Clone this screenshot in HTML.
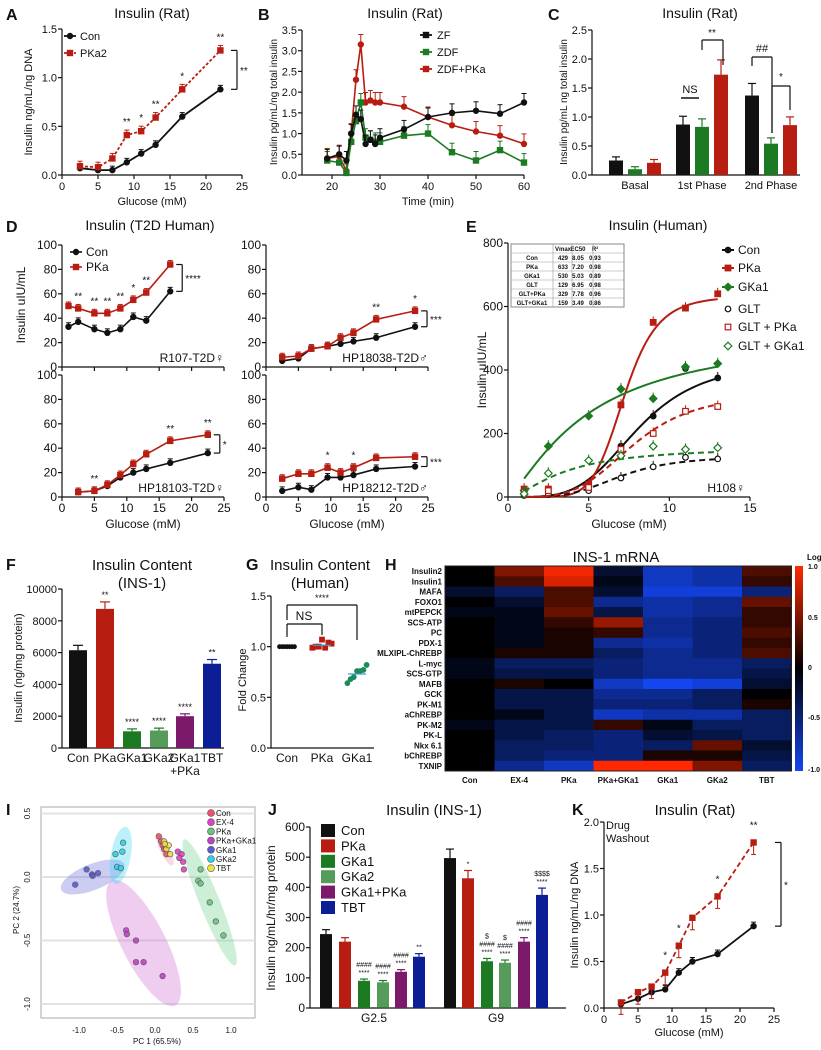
<!DOCTYPE html>
<html><head><meta charset="utf-8">
<style>
html,body{margin:0;padding:0;background:#fff;}
svg{display:block;font-family:"Liberation Sans Narrow","Liberation Sans",sans-serif;}
</style></head>
<body>
<svg id="fig" width="821" height="1050" viewBox="0 0 821 1050" xmlns="http://www.w3.org/2000/svg"></svg>
<script>
// ---------- DATA ----------
const aGlu=[2.5,5,7,9,11,13,16.7,22];
const aCon=[0.07,0.05,0.05,0.13,0.22,0.31,0.60,0.88];
const aPKa2=[0.09,0.08,0.17,0.41,0.45,0.59,0.88,1.28];
const aStars=['','','','**','*','**','*','**'];

const bTime=[19,21.5,23,24,25,26,27,28,29,30,35,40,45,50,55,60];
const bZF=[0.40,0.50,0.35,1.00,1.45,1.35,0.75,0.85,0.75,0.90,1.10,1.40,1.50,1.55,1.48,1.75];
const bZDF=[0.35,0.30,0.05,0.80,1.30,1.75,0.90,0.85,0.80,0.80,0.95,1.00,0.55,0.35,0.60,0.30];
const bPKa=[0.40,0.45,0.10,1.00,2.30,3.15,1.75,1.80,1.75,1.75,1.65,1.40,1.20,1.05,0.95,0.75];

const cGroups=['Basal','1st Phase','2nd Phase'];
const cZF=[0.25,0.87,1.37];
const cZDF=[0.10,0.83,0.54];
const cPKa=[0.21,1.73,0.86];

const d1Glu=[1,2.5,5,7,9,11,13,16.7];
const d1Con=[33,37,31,28,31,41,38,62];
const d1PKa=[50,48,44,44,48,55,61,84];
const d1Stars=['','**','**','**','**','*','**',''];
const d2Glu=[2.5,5,7,9.5,11.5,13.5,17,23];
const d2Con=[5,7,15,17,19,21,24,33];
const d2PKa=[8,9,15,17,24,28,39,46];
const d2Stars=['','','','','','','**','*'];
const d3Glu=[2.5,5,7,9,11,13,16.7,22.5];
const d3Con=[4,5,9,16,20,23,28,36];
const d3PKa=[4,5,10,18,27,35,46,51];
const d3Stars=['','**','','','','','**','**'];
const d4Glu=[2.5,5,7,9.5,11.5,13.5,17,23];
const d4Con=[5,8,6,16,16,18,23,25];
const d4PKa=[15,19,19,24,20,24,32,33];
const d4Stars=['','','','*','','*','',''];

const eGlu=[1,2.5,5,7,9,11,13];
const eCon=[10,10,30,160,255,405,375];
const ePKa=[25,25,40,290,550,595,640];
const eGKa1=[20,160,255,340,310,410,420];
const eGLT=[5,8,20,60,95,125,120];
const eGLTPKa=[15,20,30,150,200,270,285];
const eGLTGKa1=[10,75,115,130,160,150,155];
const eNames=['Con','PKa','GKa1','GLT','GLT+PKa','GLT+GKa1'];
const eVmax=[429,633,530,129,329,159];
const eEC50=[8.05,7.20,5.03,6.95,7.78,3.49];
const eR2=['0.93','0.98','0.89','0.98','0.96','0.86'];
const eHill=[4,7,1.3,4,4,1.6];

const fCats=['Con','PKa','GKa1','GKa2','GKa1','TBT'];
const fVals=[6150,8750,1050,1100,2000,5300];
const fStars=['','**','****','****','****','**'];

const gCon=[1,1,1,1,1,1,1];
const gPKa=[0.97,1.0,1.02,1.05,0.99,1.06,1.01];
const gGKa1=[0.62,0.68,0.72,0.74,0.76,0.79,0.80];

const hGenes=['Insulin2','Insulin1','MAFA','FOXO1','mtPEPCK','SCS-ATP','PC','PDX-1','MLXIPL-ChREBP','L-myc','SCS-GTP','MAFB','GCK','PK-M1','aChREBP','PK-M2','PK-L','Nkx 6.1','bChREBP','TXNIP'];
const hGroups=['Con','EX-4','PKa','PKa+GKa1','GKa1','GKa2','TBT'];
const hVals=[
[0,.5,.95,-.2,-.8,-.7,.3],[0,.3,.85,-.1,-.8,-.7,.2],[-.2,-.4,.3,-.2,-.9,-.9,-.5],
[0,-.2,.3,-.6,-.7,-.6,.4],[-.1,-.1,.4,-.3,-.7,-.6,.2],[0,-.1,.2,.6,-.6,-.5,.2],
[0,-.1,.1,.2,-.6,-.5,.3],[0,-.1,.1,-.6,-.7,-.5,.2],[0,.1,.1,-.4,-.6,-.5,.3],
[-.1,-.4,-.4,-.5,-.6,-.6,-.4],[-.1,-.3,-.3,-.5,-.6,-.6,-.3],[0,.1,0,-.8,-1,-.9,-.2],
[0,-.3,-.3,-.6,-.6,-.4,0],[0,-.3,-.3,-.5,-.5,-.4,.1],[0,-.1,-.3,-.8,-.7,-.7,-.4],
[-.1,-.3,-.3,.2,-.1,-.4,-.4],[0,-.3,-.4,-.5,-.2,-.3,-.4],[0,-.4,-.4,-.5,-.4,.4,-.2],
[0,-.4,-.5,-.5,.1,.1,-.3],[0,-.6,-.8,1,1,.5,-.4]];

const iGroups=['Con','EX-4','PKa','PKa+GKa1','GKa1','GKa2','TBT'];
const iPC1=[[0.05,0.08,0.12,0.15,0.10],[0.30,0.35,0.37,0.38,0.32],[0.60,0.57,0.60,0.72,0.80,0.90],[-0.38,-0.37,-0.25,-0.25,-0.15,0.10],[-1.05,-0.90,-0.83,-0.82,-0.75],[-0.52,-0.42,-0.43,-0.50,-0.45],[0.12,0.15,0.18,0.20,0.13]];
const iPC2=[[0.32,0.28,0.22,0.18,0.25],[0.20,0.18,0.12,0.06,0.15],[0.06,-0.03,-0.05,-0.20,-0.35,-0.46],[-0.42,-0.45,-0.50,-0.67,-0.67,-0.78],[-0.06,0.06,0.02,0.01,0.03],[0.18,0.27,0.20,0.08,0.07],[0.28,0.22,0.25,0.18,0.26]];

const jCats=['Con','PKa','GKa1','GKa2','GKa1+PKa','TBT'];
const jG25=[245,220,90,85,120,170];
const jG9=[497,430,155,150,220,375];

const kGlu=[2.5,5,7,9,11,13,16.7,22];
const kCon=[0.04,0.10,0.17,0.20,0.38,0.50,0.58,0.88];
const kPKa=[0.06,0.17,0.23,0.38,0.67,0.97,1.20,1.78];
const kStars=['','','','*','*','','*','**'];

// ---------- HELPERS ----------
const NS='http://www.w3.org/2000/svg';
const svg=document.getElementById('fig');
const RED='#b81d12',GRN='#1c7a22',PUR='#7b1a6a',BLU='#0c1e96';
function mk(tag,a,name,parent){
  const e=document.createElementNS(NS,tag);
  for(const k in a)e.setAttribute(k,a[k]);
  
  
  (parent||svg).appendChild(e);return e;
}
function T(x,y,s,size,name,anchor,weight,rot,fill){
  const a={x:x,y:y,'font-size':size,'text-anchor':anchor||'middle',fill:fill||'#111'};
  if(weight)a['font-weight']=weight;
  if(rot)a.transform='rotate('+rot+' '+x+' '+y+')';
  const e=mk('text',a,name);e.textContent=s;return e;
}
function L(x1,y1,x2,y2,name,stroke,w,dash){
  const a={x1:x1,y1:y1,x2:x2,y2:y2,stroke:stroke||'#111','stroke-width':w||1.2};
  if(dash)a['stroke-dasharray']=dash;
  return mk('line',a,name);
}
function sc(d0,d1,p0,p1){return v=>p0+(v-d0)*(p1-p0)/(d1-d0);}
function yAxis(x,ys,ticks,labels,size,name){
  L(x,ys(ticks[0]),x,ys(ticks[ticks.length-1]),name+'-line');
  ticks.forEach((t,i)=>{L(x-4,ys(t),x,ys(t),name+'-tick');
    if(labels)T(x-5,ys(t)+4,labels[i],size||11,name+'-label','end');});
}
function xAxis(y,xs,ticks,labels,size,name,x0,x1){
  L(x0!==undefined?x0:xs(ticks[0]),y,x1!==undefined?x1:xs(ticks[ticks.length-1]),y,name+'-line');
  ticks.forEach((t,i)=>{L(xs(t),y,xs(t),y+4,name+'-tick');
    if(labels)T(xs(t),y+15,labels[i],size||11,name+'-label');});
}
function marker(x,y,shape,color,name,r,open){
  r=r||2.6;
  const f=open?'#fff':color;
  if(shape==='s')return mk('rect',{x:x-r,y:y-r,width:2*r,height:2*r,fill:f,stroke:color,'stroke-width':1.2},name);
  if(shape==='d')return mk('polygon',{points:`${x},${y-r-1} ${x+r+1},${y} ${x},${y+r+1} ${x-r-1},${y}`,fill:f,stroke:color,'stroke-width':1.2},name);
  return mk('circle',{cx:x,cy:y,r:r,fill:f,stroke:color,'stroke-width':1.2},name);
}
function series(xs,ys,X,Y,color,shape,name,dash,err,w){
  const pts=X.map((v,i)=>xs(v)+','+ys(Y[i])).join(' ');
  const a={points:pts,fill:'none',stroke:color,'stroke-width':w||1.8};
  if(dash)a['stroke-dasharray']=dash;
  mk('polyline',a,name+'-line');
  X.forEach((v,i)=>{
    const px=xs(v),py=ys(Y[i]);
    if(err){L(px,py,px,py-err,name+'-error',color,1);L(px-2.5,py-err,px+2.5,py-err,name+'-error-cap',color,1);}
    marker(px,py,shape,color,name+'-point');
  });
}
function stars(xs,ys,X,Y,S,name,off){
  X.forEach((v,i)=>{if(S[i])T(xs(v),ys(Y[i])-(off||9),S[i],10,name);});
}
function bracket(x,y1,y2,label,name){
  L(x-6,y1,x,y1,name);L(x,y1,x,y2,name);L(x-6,y2,x,y2,name);
  T(x+3,(y1+y2)/2+4,label,10,name+'-label','start');
}

// ---------- PANEL A ----------
{
const xs=sc(0,25,62,242),ys=sc(0,1.5,175,29);
T(6,20,'A',16,'panel-a-letter','start','bold');
T(152,18,'Insulin (Rat)',14,'panel-a-title');
yAxis(62,ys,[0,0.5,1,1.5],['0.0','0.5','1.0','1.5'],11,'a-y-axis');
xAxis(175,xs,[0,5,10,15,20,25],['0','5','10','15','20','25'],11,'a-x-axis');
T(152,205,'Glucose (mM)',11,'a-x-axis-title');
T(32,102,'Insulin ng/mL/ng DNA',11,'a-y-axis-title','middle',null,-90);
series(xs,ys,aGlu,aCon,'#111','c','a-con',null,4);
series(xs,ys,aGlu,aPKa2,RED,'s','a-pka2','3,2',5);
stars(xs,ys,aGlu,aPKa2,aStars,'a-significance',10);
bracket(237,ys(1.28),ys(0.88),'**','a-bracket');
L(64,36,76,36,'a-legend-con-line','#111',1.8);marker(70,36,'c','#111','a-legend-con-marker');T(80,40,'Con',11,'a-legend-con','start');
L(64,53,76,53,'a-legend-pka2-line',RED,1.8,'3,2');marker(70,53,'s',RED,'a-legend-pka2-marker');T(80,57,'PKa2',11,'a-legend-pka2','start');
}
// ---------- PANEL B ----------
{
const xs=sc(20,60,332,524),ys=sc(0,3.5,175,30);
T(258,20,'B',16,'panel-b-letter','start','bold');
T(405,18,'Insulin (Rat)',14,'panel-b-title');
yAxis(302,ys,[0,0.5,1,1.5,2,2.5,3,3.5],['0.0','0.5','1.0','1.5','2.0','2.5','3.0','3.5'],11,'b-y-axis');
xAxis(175,xs,[20,30,40,50,60],['20','30','40','50','60'],11,'b-x-axis',302);
T(428,205,'Time (min)',11,'b-x-axis-title');
T(277,102,'Insulin pg/mL/ng total insulin',10,'b-y-axis-title','middle',null,-90);
series(xs,ys,bTime,bPKa,RED,'t','b-zdf-pka',null,10,1.6);
series(xs,ys,bTime,bZDF,GRN,'s','b-zdf',null,9,1.6);
series(xs,ys,bTime,bZF,'#111','c','b-zf',null,9,1.6);
[['ZF','#111'],['ZDF',GRN],['ZDF+PKa',RED]].forEach((l,i)=>{
  const y=35+i*17;
  L(420,y,432,y,'b-legend-line',l[1],1.8);marker(426,y,'s',l[1],'b-legend-marker');
  T(437,y+4,l[0],11,'b-legend-'+l[0].toLowerCase(),'start');
});
}
// ---------- PANEL C ----------
{
const ys=sc(0,2.5,175,30);
T(548,20,'C',16,'panel-c-letter','start','bold');
T(700,18,'Insulin (Rat)',14,'panel-c-title');
yAxis(592,ys,[0,0.5,1,1.5,2,2.5],['0.0','0.5','1.0','1.5','2.0','2.5'],11,'c-y-axis');
L(592,175,800,175,'c-x-axis-line');
T(567,102,'Insulin pg/mL ng total insulin',10,'c-y-axis-title','middle',null,-90);
const gx=[635,702,771];
const cols=['#111',GRN,RED];
[cZF,cZDF,cPKa].forEach((arr,s)=>{
  arr.forEach((v,i)=>{
    const x=gx[i]+(s-1)*19-7;
    mk('rect',{x:x,y:ys(v),width:14,height:175-ys(v),fill:cols[s]},'c-bar-'+cGroups[i].replace(/ /g,'-').toLowerCase());
    const e=v*0.13+0.03;
    L(x+7,ys(v),x+7,ys(v+e),'c-error',cols[s],1.2);L(x+3,ys(v+e),x+11,ys(v+e),'c-error-cap',cols[s],1.2);
  });
  cGroups.forEach((g,i)=>{if(s===0)T(gx[i],189,g,11,'c-x-label');});
});
L(681,98,699,98,'c-ns-line','#111',1.5);T(690,93,'NS',11,'c-ns-label');
L(702,40,723,40,'c-bracket');L(702,40,702,50,'c-bracket');L(723,40,723,65,'c-bracket');T(712,36,'**',10,'c-sig-label');
L(752,57,772,57,'c-bracket');L(752,57,752,66,'c-bracket');L(772,57,772,133,'c-bracket');T(762,52,'##',11,'c-sig-label');
L(772,86,790,86,'c-bracket');L(772,86,772,133,'c-bracket');L(790,86,790,110,'c-bracket');T(781,80,'*',10,'c-sig-label');
}
// ---------- PANEL D ----------
{
T(6,232,'D',16,'panel-d-letter','start','bold');
T(150,230,'Insulin (T2D Human)',14,'panel-d-title');
T(25,305,'Insulin uIU/mL',12,'d-y-axis-title','middle',null,-90);
const subs=[
 {x0:62,y0:367,X:d1Glu,C:d1Con,P:d1PKa,S:d1Stars,lab:'R107-T2D\u2640',br:[62,84],n:'d-r107'},
 {x0:266,y0:367,X:d2Glu,C:d2Con,P:d2PKa,S:d2Stars,lab:'HP18038-T2D\u2642',br:[33,46],n:'d-hp18038'},
 {x0:62,y0:497,X:d3Glu,C:d3Con,P:d3PKa,S:d3Stars,lab:'HP18103-T2D\u2640',br:[36,51],n:'d-hp18103'},
 {x0:266,y0:497,X:d4Glu,C:d4Con,P:d4PKa,S:d4Stars,lab:'HP18212-T2D\u2642',br:[25,33],n:'d-hp18212'}];
subs.forEach((s,k)=>{
  const xs=sc(0,25,s.x0,s.x0+162),ys=sc(0,100,s.y0,s.y0-122);
  yAxis(s.x0,ys,[0,20,40,60,80,100],['0','20','40','60','80','100'],12,s.n+'-y-axis');
  xAxis(s.y0,xs,[0,5,10,15,20,25],k>=2?['0','5','10','15','20','25']:null,12,s.n+'-x-axis');
  series(xs,ys,s.X,s.C,'#111','c',s.n+'-con',null,4,1.6);
  series(xs,ys,s.X,s.P,RED,'s',s.n+'-pka',null,4,1.6);
  stars(xs,ys,s.X,s.P,s.S,s.n+'-significance',9);
  bracket(xs(s.X[7])+12,ys(s.br[1]),ys(s.br[0]),['****','***','*','***'][k],s.n+'-bracket');
  T(s.x0+162,s.y0-5,s.lab,12,s.n+'-donor-label','end');
  if(k>=2)T(s.x0+81,s.y0+31,'Glucose (mM)',12,s.n+'-x-axis-title');
});
L(70,252,82,252,'d-legend-con-line','#111',1.6);marker(76,252,'c','#111','d-legend-con-marker');T(86,256,'Con',12,'d-legend-con','start');
L(70,267,82,267,'d-legend-pka-line',RED,1.6);marker(76,267,'s',RED,'d-legend-pka-marker');T(86,271,'PKa',12,'d-legend-pka','start');
}
// ---------- PANEL E ----------
{
const xs=sc(0,15,508,750),ys=sc(0,800,497,243);
T(466,232,'E',16,'panel-e-letter','start','bold');
T(658,230,'Insulin (Human)',14,'panel-e-title');
yAxis(508,ys,[0,200,400,600,800],['0','200','400','600','800'],12,'e-y-axis');
xAxis(497,xs,[0,5,10,15],['0','5','10','15'],12,'e-x-axis');
T(629,528,'Glucose (mM)',12,'e-x-axis-title');
T(486,370,'Insulin uIU/mL',12,'e-y-axis-title','middle',null,-90);
T(745,492,'H108\u2640',12,'e-donor-label','end');
const data=[eCon,ePKa,eGKa1,eGLT,eGLTPKa,eGLTGKa1];
const cols=['#111',RED,GRN,'#111',RED,GRN];
const shapes=['c','s','d','c','s','d'];
data.forEach((Y,s)=>{
  const pts=[];
  for(let g=1;g<=13.01;g+=0.25){const v=eVmax[s]*Math.pow(g,eHill[s])/(Math.pow(eEC50[s],eHill[s])+Math.pow(g,eHill[s]));pts.push(xs(g)+','+ys(v));}
  const a={points:pts.join(' '),fill:'none',stroke:cols[s],'stroke-width':2};
  if(s>=3)a['stroke-dasharray']='6,4';
  mk('polyline',a,'e-fit-'+eNames[s].toLowerCase());
  eGlu.forEach((g,i)=>{
    const px=xs(g),py=ys(Y[i]);
    L(px,py,px,py-6,'e-error',cols[s],1);
    marker(px,py,shapes[s],cols[s],'e-point-'+eNames[s].toLowerCase(),2.8,s>=3);
  });
});
const leg=['Con','PKa','GKa1','GLT','GLT + PKa','GLT + GKa1'];
leg.forEach((l,i)=>{
  const y=[250,268,287,309,327,346][i];
  if(i<3)L(722,y,734,y,'e-legend-line',cols[i],2);
  marker(728,y,shapes[i],cols[i],'e-legend-marker',2.8,i>=3);
  T(738,y+4,l,12,'e-legend-'+l.replace(/ /g,'').toLowerCase(),'start');
});
const tx=[511,553,568,585,600];
const hdr=['','Vmax','EC50','R\u00b2'];
mk('rect',{x:511,y:244,width:113,height:63,fill:'#fff',stroke:'#888','stroke-width':1},'e-table');
for(let r=0;r<7;r++){
  const y=244+r*9;
  if(r>0)L(511,y,624,y,'e-table-row-line','#999',0.6);
  const cells=r===0?hdr:[eNames[r-1],String(eVmax[r-1]),eEC50[r-1].toFixed(2),eR2[r-1]];
  cells.forEach((c,j)=>T(tx[j]+(j===0?21:10),y+7,c,6,'e-table-cell','middle','bold'));
}
[553,572,593].forEach(x=>L(x,244,x,307,'e-table-col-line','#999',0.6));
}
// ---------- PANEL F ----------
{
const ys=sc(0,10000,748,589);
T(6,570,'F',16,'panel-f-letter','start','bold');
T(142,570,'Insulin Content',15,'panel-f-title');
T(142,588,'(INS-1)',15,'panel-f-subtitle');
yAxis(62,ys,[0,2000,4000,6000,8000,10000],['0','2000','4000','6000','8000','10000'],11,'f-y-axis');
L(62,748,224,748,'f-x-axis-line');
T(22,668,'Insulin (ng/mg protein)',11,'f-y-axis-title','middle',null,-90);
const cols=['#111',RED,GRN,GRN,PUR,BLU];
const bx=[78,105,132,159,185,212];
fVals.forEach((v,i)=>{
  mk('rect',{x:bx[i]-9,y:ys(v),width:18,height:748-ys(v),fill:cols[i],opacity:i===3?0.75:1},'f-bar-'+fCats[i].toLowerCase());
  const e=Math.max(150,v*0.05);
  L(bx[i],ys(v),bx[i],ys(v+e),'f-error',cols[i],1.2);L(bx[i]-5,ys(v+e),bx[i]+5,ys(v+e),'f-error-cap',cols[i],1.2);
  T(bx[i],ys(v+e)-4,fStars[i],9,'f-significance');
  T(bx[i],762,fCats[i],12,'f-x-label');
});
T(185,775,'+PKa',12,'f-x-label-2');
}
// ---------- PANEL G ----------
{
const ys=sc(0,1.5,748,596);
T(246,570,'G',16,'panel-g-letter','start','bold');
T(320,570,'Insulin Content',15,'panel-g-title');
T(320,588,'(Human)',15,'panel-g-subtitle');
yAxis(271,ys,[0,0.5,1,1.5],['0.0','0.5','1.0','1.5'],11,'g-y-axis');
L(271,748,374,748,'g-x-axis-line');
T(246,680,'Fold Change',11,'g-y-axis-title','middle',null,-90);
const gx=[287,322,357],cols=['#111',RED,'#1f8a5a'];
[gCon,gPKa,gGKa1].forEach((arr,s)=>{
  arr.forEach((v,i)=>{
    const x=gx[s]+(i-3)*(s===0?2.5:3.2);
    marker(x,ys(v)+(s>0?((i%3)-1)*2:0),s===1?'s':'c',cols[s],'g-point-'+['con','pka','gka1'][s],s===0?1.8:2.3);
  });
  const m=arr.reduce((a,b)=>a+b,0)/arr.length;
  L(gx[s]-9,ys(m),gx[s]+9,ys(m),'g-mean',s===0?'#111':'#3a9ad0',1.2);
  T(gx[s],762,['Con','PKa','GKa1'][s],12,'g-x-label');
});
L(287,624,287,637,'g-bracket');L(287,624,322,624,'g-bracket');L(322,624,322,635,'g-bracket');T(304,620,'NS',12,'g-ns-label');
L(287,605,287,620,'g-bracket');L(287,605,357,605,'g-bracket');L(357,605,357,640,'g-bracket');T(322,601,'****',9,'g-sig-label');
}
// ---------- PANEL H ----------
{
T(385,570,'H',16,'panel-h-letter','start','bold');
T(616,562,'INS-1 mRNA',15,'panel-h-title');
const x0=445,y0=566,cw=49.5,rh=10.25;
function col(v){
  const t=Math.min(1,Math.abs(v));
  if(v>=0)return `rgb(${Math.round(255*t)},${Math.round(40*t)},0)`;
  return `rgb(${Math.round(20*t)},${Math.round(70*t)},${Math.round(240*t)})`;
}
hVals.forEach((row,r)=>{
  T(x0-3,y0+r*rh+8,hGenes[r],8,'h-gene-label','end','bold');
  row.forEach((v,g)=>{
    mk('rect',{x:x0+g*cw,y:y0+r*rh,width:cw+0.3,height:rh+0.3,fill:col(v)},'h-cell');
  });
});
mk('rect',{x:x0,y:y0,width:cw*7,height:rh*20,fill:'none',stroke:'#222','stroke-width':1},'h-frame');
hGroups.forEach((g,i)=>T(x0+i*cw+cw/2,783,g,8,'h-group-label','middle','bold'));
const defs=mk('defs',{},'h-defs');
const lg=mk('linearGradient',{id:'cb',x1:0,y1:0,x2:0,y2:1},'h-colorbar-gradient',defs);
[['0%','#ff2a00'],['50%','#000'],['100%','#1446f0']].forEach(s=>mk('stop',{offset:s[0],'stop-color':s[1]},'h-colorbar-stop',lg));
mk('rect',{x:795,y:566,width:8,height:205,fill:'url(#cb)'},'h-colorbar');
T(807,560,'Log2',8,'h-colorbar-title','start','bold');
[['1.0',569],['0.5',620],['0',670],['-0.5',720],['-1.0',772]].forEach(l=>T(808,l[1],l[0],7,'h-colorbar-label','start','bold'));
}
// ---------- PANEL I ----------
{
const xs=sc(0,1,155,231),ys=sc(0,1,877,750);
T(6,815,'I',16,'panel-i-letter','start','bold');
mk('rect',{x:41,y:807,width:214,height:211,fill:'#fff',stroke:'#aaa','stroke-width':1},'i-frame');
[0.5,0,-0.5,-1].forEach(v=>{L(41,ys(v),255,ys(v),'i-gridline','#e2e2e2',2);T(30,ys(v),v.toFixed(1),8,'i-y-label','middle',null,-90);});
[-1,-0.5,0,0.5,1].forEach(v=>T(xs(v),1033,v.toFixed(1),8,'i-x-label'));
T(157,1044,'PC 1 (65.5%)',8,'i-x-axis-title');
T(19,910,'PC 2 (24.7%)',8,'i-y-axis-title','middle',null,-90);
const cols=['#f05068','#e040c0','#6cc482','#c040c8','#5a5ad8','#30d0e8','#f0e040'];
const ell=[['#f090c8',0.13,0.22,18,5,65],['#70d090',0.72,-0.2,68,10,68],['#d070d8',-0.15,-0.52,70,22,63],['#7070e0',-0.82,0.0,34,13,-22],['#40d8f0',-0.45,0.17,29,10,-80]];
ell.forEach(e=>mk('ellipse',{cx:xs(e[1]),cy:ys(e[2]),rx:e[3],ry:e[4],fill:e[0],opacity:0.35,transform:`rotate(${e[5]} ${xs(e[1])} ${ys(e[2])})`},'i-group-ellipse'));
iPC1.forEach((arr,g)=>arr.forEach((v,i)=>mk('circle',{cx:xs(v),cy:ys(iPC2[g][i]),r:2.8,fill:cols[g],stroke:'#555','stroke-width':0.7,opacity:0.9},'i-point-'+iGroups[g].toLowerCase())));
iGroups.forEach((g,i)=>{const y=813+i*9.2;mk('circle',{cx:211,cy:y,r:3.5,fill:cols[i],stroke:'#555','stroke-width':0.6},'i-legend-marker');T(216,y+3,g,8,'i-legend-'+g.toLowerCase(),'start');});
}
// ---------- PANEL J ----------
{
const ys=sc(0,600,1008,827);
T(268,815,'J',16,'panel-j-letter','start','bold');
T(434,815,'Insulin (INS-1)',15,'panel-j-title');
yAxis(310,ys,[0,100,200,300,400,500,600],['0','100','200','300','400','500','600'],12,'j-y-axis');
L(310,1008,566,1008,'j-x-axis-line');
T(275,918,'Insulin ng/mL/hr/mg protein',12,'j-y-axis-title','middle',null,-90);
const cols=['#111',RED,GRN,GRN,PUR,BLU];
const g1=[326,345,364,383,401,419],g2=[450,468,487,505,524,542];
const ann1=['','','****\n####','****\n####','****\n####','**'];
const ann2=['','*','****\n####\n$','****\n####\n$','****\n####','****\n$$$$'];
[[jG25,g1,ann1],[jG9,g2,ann2]].forEach(([vals,xsP,ann],k)=>{
  vals.forEach((v,i)=>{
    const x=xsP[i];
    mk('rect',{x:x-6,y:ys(v),width:12,height:1008-ys(v),fill:cols[i],opacity:i===3?0.75:1},'j-bar-'+(k?'g9-':'g25-')+jCats[i].toLowerCase());
    const e=Math.max(6,v*0.06);
    L(x,ys(v),x,ys(v+e),'j-error',cols[i],1.2);L(x-4,ys(v+e),x+4,ys(v+e),'j-error-cap',cols[i],1.2);
    ann[i].split('\n').forEach((s,j)=>{if(s)T(x,ys(v+e)-4-j*8,s,7,'j-significance');});
  });
});
T(374,1022,'G2.5',12,'j-x-label');T(496,1022,'G9',12,'j-x-label');
jCats.forEach((c,i)=>{const y=830+i*15.4;mk('rect',{x:321,y:y-6,width:14,height:13,fill:cols[i],opacity:i===3?0.75:1},'j-legend-swatch');T(341,y+5,c,13,'j-legend-'+c.toLowerCase(),'start');});
}
// ---------- PANEL K ----------
{
const xs=sc(0,25,604,774),ys=sc(0,2,1008,822);
T(572,815,'K',16,'panel-k-letter','start','bold');
T(695,815,'Insulin (Rat)',15,'panel-k-title');
yAxis(604,ys,[0,0.5,1,1.5,2],['0.0','0.5','1.0','1.5','2.0'],11,'k-y-axis');
xAxis(1008,xs,[0,5,10,15,20,25],['0','5','10','15','20','25'],11,'k-x-axis');
T(689,1036,'Glucose (mM)',11,'k-x-axis-title');
T(578,915,'Insulin ng/mL/ng DNA',11,'k-y-axis-title','middle',null,-90);
T(606,829,'Drug',11,'k-note','start');T(606,842,'Washout',11,'k-note-2','start');
series(xs,ys,kGlu,kCon,'#111','c','k-con',null,4);
series(xs,ys,kGlu,kPKa,RED,'s','k-pka','5,3',-12);
stars(xs,ys,kGlu,kPKa,kStars,'k-significance',14);
bracket(781,ys(1.78),ys(0.88),'*','k-bracket');
}
</script>
</body></html>
